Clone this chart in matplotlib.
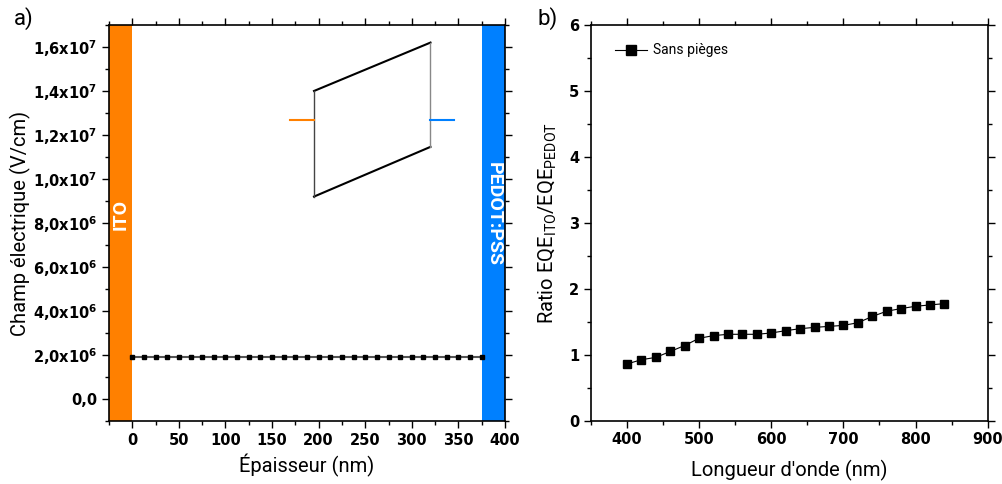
import numpy as np
import matplotlib
matplotlib.use("Agg")
import matplotlib.pyplot as plt
from matplotlib.ticker import MultipleLocator, FuncFormatter

plt.rcParams['font.family'] = ['Roboto', 'DejaVu Sans']
plt.rcParams['mathtext.default'] = 'regular'

# --- panel a: electric field across the layer
thickness = np.arange(0, 375.1, 12.5)
field = np.full(len(thickness), 1.9e6)

# inset sketch (parallelogram + contacts), in data units
sketch_x = [195, 320]
sketch_top = [1.40e7, 1.62e7]
sketch_bot = [0.92e7, 1.146e7]
ito_tick_x = [169, 195]
pedot_tick_x = [320, 345]
contact_y = 1.27e7

ito_band = (-25, 0)
pedot_band = (375, 400)

# --- panel b: EQE ratio
wavelength = [400, 420, 440, 460, 480, 500, 520, 540, 560, 580, 600, 620,
              640, 660, 680, 700, 720, 740, 760, 780, 800, 820, 840]
ratio = [0.86, 0.925, 0.96, 1.05, 1.14, 1.25, 1.29, 1.31, 1.31, 1.31, 1.33,
         1.365, 1.395, 1.415, 1.43, 1.445, 1.485, 1.58, 1.66, 1.70, 1.735,
         1.755, 1.775]

ORANGE = '#FF8000'
BLUE = '#0080FF'


def sci_comma(v, pos):
    if abs(v) < 1e-9:
        return '0,0'
    e = int(np.floor(np.log10(abs(v))))
    m = v / 10 ** e
    return f'{m:.1f}'.replace('.', ',') + 'x10$^{%d}$' % e


def style_axes(ax):
    ax.tick_params(which='both', direction='out', top=True, right=True,
                   labeltop=False, labelright=False, width=1)
    ax.tick_params(which='major', length=5)
    ax.tick_params(which='minor', length=3)
    for s in ax.spines.values():
        s.set_linewidth(1.2)


def bold_ticklabels(ax):
    for lab in ax.get_xticklabels() + ax.get_yticklabels():
        lab.set_fontweight('bold')
        lab.set_family('DejaVu Sans')
        lab.set_fontsize(10.5)


fig = plt.figure(figsize=(10.03, 4.84), dpi=100)
ax1 = fig.add_axes([0.1087, 0.1302, 0.3948, 0.8182])
ax2 = fig.add_axes([0.5892, 0.1308, 0.3955, 0.8176])

# panel a
ax1.axvspan(*ito_band, color=ORANGE, lw=0)
ax1.axvspan(*pedot_band, color=BLUE, lw=0)
ax1.plot(thickness, field, color='#555555', lw=1.5, marker='s', ms=2.7,
         mfc='black', mec='black')
ax1.plot(sketch_x, sketch_top, color='black', lw=1.5)
ax1.plot(sketch_x, sketch_bot, color='black', lw=1.5)
ax1.plot([sketch_x[0]] * 2, [sketch_bot[0], sketch_top[0]], color='#444444', lw=1)
ax1.plot([sketch_x[1]] * 2, [sketch_bot[1], sketch_top[1]], color='#888888', lw=1)
ax1.plot(ito_tick_x, [contact_y] * 2, color=ORANGE, lw=1.5)
ax1.plot(pedot_tick_x, [contact_y] * 2, color=BLUE, lw=1.5)
ax1.text(-12.5, 8.4e6, 'ITO', rotation=90, color='white', fontweight='bold',
         fontsize=14, ha='center', va='center')
ax1.text(387.5, 8.4e6, 'PEDOT:PSS', rotation=270, color='white',
         fontweight='bold', fontsize=14, ha='center', va='center')

ax1.set_xlim(-25, 400)
ax1.set_ylim(-1e6, 1.7e7)
ax1.xaxis.set_major_locator(MultipleLocator(50))
ax1.xaxis.set_minor_locator(MultipleLocator(25))
ax1.yaxis.set_major_locator(MultipleLocator(2e6))
ax1.yaxis.set_minor_locator(MultipleLocator(1e6))
ax1.yaxis.set_major_formatter(FuncFormatter(sci_comma))
ax1.set_xlabel('Épaisseur (nm)', fontsize=14.5, labelpad=4)
ax1.set_ylabel('Champ électrique (V/cm)', fontsize=14.5, labelpad=1)
style_axes(ax1)

# panel b
ax2.plot(wavelength, ratio, color='black', lw=0.8, marker='s', ms=5.2,
         label='Sans pièges')
ax2.set_xlim(350, 900)
ax2.set_ylim(0, 6)
ax2.xaxis.set_major_locator(MultipleLocator(100))
ax2.xaxis.set_minor_locator(MultipleLocator(50))
ax2.yaxis.set_major_locator(MultipleLocator(1))
ax2.yaxis.set_minor_locator(MultipleLocator(0.5))
ax2.set_xlabel("Longueur d'onde (nm)", fontsize=14.5, labelpad=9)
ax2.set_ylabel(r'Ratio EQE$_{ITO}$/EQE$_{PEDOT}$', fontsize=14.5, labelpad=7)
ax2.legend(loc='upper left', bbox_to_anchor=(0.03, 0.985), frameon=False,
           fontsize=10, handlelength=2.3, handletextpad=0.4, markerscale=1.3)
style_axes(ax2)

fig.text(0.014, 0.985, 'a)', fontsize=16, va='top')
fig.text(0.536, 0.985, 'b)', fontsize=16, va='top')

fig.canvas.draw()
bold_ticklabels(ax1)
bold_ticklabels(ax2)

fig.savefig('out.png', dpi=100)
